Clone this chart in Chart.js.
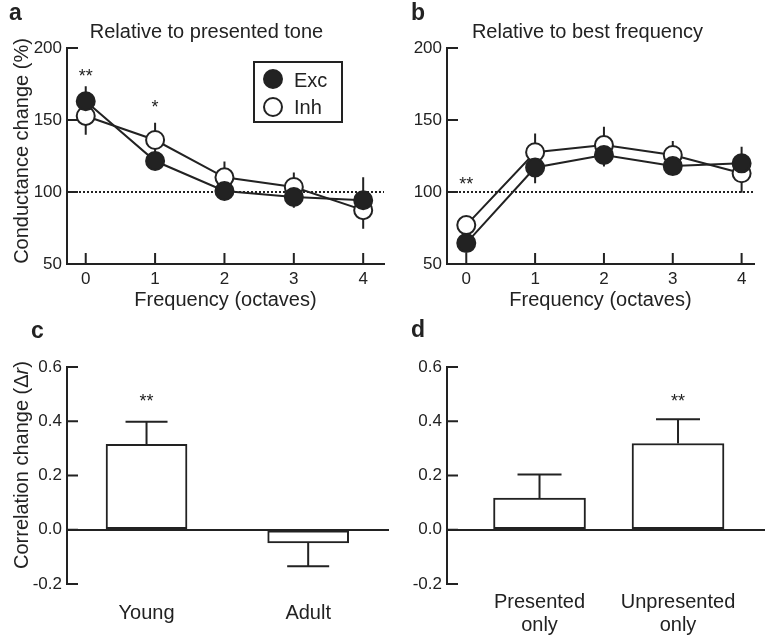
<!DOCTYPE html>
<html>
<head>
<meta charset="utf-8">
<script src="https://cdn.jsdelivr.net/npm/chart.js@4.4.1/dist/chart.umd.min.js"></script>
<style>
  body { margin: 0; background: #fff; font-family: 'Liberation Sans', Arial, sans-serif; color: #222; }
  #fig { position: relative; width: 765px; height: 639px; overflow: hidden; }
  #fig canvas { position: absolute; }
  .txt { position: absolute; white-space: nowrap; line-height: 1; }
  .lbl { font-weight: bold; font-size: 23px; }
  .ttl { font-size: 20px; width: 300px; text-align: center; }
  .ytl { font-size: 20px; width: 280px; text-align: center; transform: rotate(-90deg); }
  #legend { position: absolute; left: 253px; top: 61px; width: 90px; height: 62px; border: 2px solid #222; box-sizing: border-box; }
  .dot { position: absolute; width: 20px; height: 20px; border-radius: 50%; border: 2px solid #222; box-sizing: border-box; }
</style>
</head>
<body>
<div id="fig">
  <canvas id="panelA" width="395" height="320" style="left:0;top:0"></canvas>
  <canvas id="panelB" width="385" height="320" style="left:380px;top:0"></canvas>
  <canvas id="panelC" width="395" height="319" style="left:0;top:320px"></canvas>
  <canvas id="panelD" width="385" height="319" style="left:380px;top:320px"></canvas>

  <div class="txt lbl" style="left:9px;top:0.5px">a</div>
  <div class="txt lbl" style="left:411px;top:0.5px">b</div>
  <div class="txt lbl" style="left:31px;top:318.5px">c</div>
  <div class="txt lbl" style="left:411px;top:317.5px">d</div>

  <div class="txt ttl" style="left:56.5px;top:20.5px">Relative to presented tone</div>
  <div class="txt ttl" style="left:437.5px;top:20.5px">Relative to best frequency</div>

  <div class="txt ytl" style="left:-119px;top:140.8px">Conductance change (%)</div>
  <div class="txt ytl" style="left:-119px;top:455px">Correlation change (&Delta;<i>r</i>)</div>

  <div id="legend">
    <div class="dot" style="left:8.3px;top:6.3px;background:#222"></div>
    <div class="txt" style="left:39px;top:6.5px;font-size:20px">Exc</div>
    <div class="dot" style="left:8.3px;top:33.7px;background:#fff"></div>
    <div class="txt" style="left:39px;top:34px;font-size:20px">Inh</div>
  </div>
</div>

<script>
// ---- data ----
const octaves = [0, 1, 2, 3, 4];
const condTicks = [50, 100, 150, 200];

// a: relative to presented tone
const excTone = [163, 121.5, 100.7, 96.5, 94.3];
const excToneErr = [10.5, 5, 4, 7.5, 16];
const inhTone = [152.8, 136.1, 110.2, 103.5, 87.4];
const inhToneErr = [13, 12, 11, 10, 13];
const starsTone = [{ x: 0, y: 184, text: "**" }, { x: 1, y: 162.5, text: "*" }];

// b: relative to best frequency
const excBF = [64.5, 117, 125.7, 118, 119.9];
const excBFErr = [6, 11, 8, 4, 11.6];
const inhBF = [77, 127.6, 132.6, 125.7, 113];
const inhBFErr = [4, 13, 12.7, 9.7, 13.5];
const starsBF = [{ x: 0, y: 109, text: "**" }];

// c, d: correlation change
const corrTicks = [-0.2, 0, 0.2, 0.4, 0.6];
const ageGroups = ["Young", "Adult"];
const corrAge = [0.315, -0.049];
const corrAgeErr = [0.083, 0.086];
const starsAge = [{ x: 0, y: 0.493, text: "**" }];

const toneGroups = [["Presented", "only"], ["Unpresented", "only"]];
const corrTone = [0.117, 0.318];
const corrToneErr = [0.087, 0.089];
const starsToneOnly = [{ x: 1, y: 0.493, text: "**" }];

// ---- style ----
const INK = "#222";
Chart.defaults.font.family = "'Liberation Sans', Arial, sans-serif";
Chart.defaults.color = INK;

// inward ticks, dotted reference line, error bars and significance stars
const sciMarks = {
  id: "sciMarks",
  beforeDatasetsDraw(chart, args, opts) {
    const { ctx, chartArea: a, scales: { x, y } } = chart;
    ctx.save();
    ctx.strokeStyle = INK;
    ctx.lineWidth = 2;
    ctx.beginPath();
    y.ticks.forEach(t => {
      const py = y.getPixelForValue(t.value);
      ctx.moveTo(a.left, py);
      ctx.lineTo(a.left + 11, py);
    });
    if (opts.xTicks) {
      x.ticks.forEach(t => {
        const px = x.getPixelForValue(t.value);
        ctx.moveTo(px, a.bottom);
        ctx.lineTo(px, a.bottom - 11);
      });
    }
    ctx.stroke();

    if (opts.refLine != null) {
      const py = y.getPixelForValue(opts.refLine);
      ctx.setLineDash([2, 2]);
      ctx.beginPath();
      ctx.moveTo(a.left, py);
      ctx.lineTo(a.right, py);
      ctx.stroke();
      ctx.setLineDash([]);
    }

    if (opts.errStyle === "line") {
      ctx.beginPath();
      chart.data.datasets.forEach(ds => {
        if (!ds.errors) return;
        ds.data.forEach((p, i) => {
          const px = x.getPixelForValue(p.x);
          ctx.moveTo(px, y.getPixelForValue(p.y - ds.errors[i]));
          ctx.lineTo(px, y.getPixelForValue(p.y + ds.errors[i]));
        });
      });
      ctx.stroke();
    }
    ctx.restore();
  },
  afterDatasetsDraw(chart, args, opts) {
    const { ctx, scales: { x, y } } = chart;
    ctx.save();
    ctx.strokeStyle = INK;
    ctx.lineWidth = 2;
    if (opts.errStyle === "cap") {
      ctx.beginPath();
      chart.data.datasets.forEach(ds => {
        if (!ds.errors) return;
        ds.data.forEach((p, i) => {
          const px = x.getPixelForValue(p.x);
          const end = p.y + Math.sign(p.y) * ds.errors[i];
          const py = y.getPixelForValue(end);
          ctx.moveTo(px, y.getPixelForValue(p.y));
          ctx.lineTo(px, py);
          ctx.moveTo(px - opts.capHalf, py);
          ctx.lineTo(px + opts.capHalf, py);
        });
      });
      ctx.stroke();
    }
    if (opts.stars) {
      ctx.fillStyle = INK;
      ctx.font = "18px 'Liberation Sans', Arial, sans-serif";
      ctx.textAlign = "center";
      ctx.textBaseline = "alphabetic";
      opts.stars.forEach(s => {
        ctx.fillText(s.text, x.getPixelForValue(s.x), y.getPixelForValue(s.y) + 10.5);
      });
    }
    ctx.restore();
  }
};
Chart.register(sciMarks);

const setTicks = vals => scale => { scale.ticks = vals.map(v => ({ value: v })); };

function linePanel(id, exc, excErr, inh, inhErr, stars, xMin, xMax, padRight) {
  const base = {
    borderColor: INK, borderWidth: 2, fill: false, tension: 0, clip: false,
    pointRadius: 9, pointBorderWidth: 2, pointBorderColor: INK
  };
  return new Chart(document.getElementById(id), {
    type: "line",
    data: {
      datasets: [
        { ...base, label: "Exc", data: octaves.map((o, i) => ({ x: o, y: exc[i] })), errors: excErr, pointBackgroundColor: INK },
        { ...base, label: "Inh", data: octaves.map((o, i) => ({ x: o, y: inh[i] })), errors: inhErr, pointBackgroundColor: "#fff" }
      ]
    },
    options: {
      responsive: false,
      animation: false,
      layout: { padding: { top: 48, right: padRight, left: 0, bottom: 0 } },
      plugins: {
        legend: { display: false },
        tooltip: { enabled: false },
        sciMarks: { xTicks: true, refLine: 100, errStyle: "line", stars }
      },
      scales: {
        x: {
          type: "linear", min: xMin, max: xMax, offset: false,
          afterBuildTicks: setTicks(octaves),
          afterFit: s => { s.height = 56; },
          grid: { display: false, drawTicks: false },
          border: { display: true, color: INK, width: 2 },
          ticks: { font: { size: 17 }, padding: 5, color: INK, autoSkip: false, maxRotation: 0 },
          title: { display: true, text: "Frequency (octaves)", font: { size: 20 }, padding: { top: 0, bottom: 8 }, color: INK }
        },
        y: {
          type: "linear", min: 50, max: 200,
          afterBuildTicks: setTicks(condTicks),
          afterFit: s => { s.width = 67; },
          grid: { display: false, drawTicks: false },
          border: { display: true, color: INK, width: 2 },
          ticks: { font: { size: 17 }, padding: 5, color: INK }
        }
      }
    }
  });
}

function barPanel(id, groups, vals, errs, stars, xMin, xMax, barPx, capHalf, labelPad, padRight) {
  return new Chart(document.getElementById(id), {
    type: "bar",
    data: {
      datasets: [{
        data: groups.map((g, i) => ({ x: i, y: vals[i] })),
        errors: errs,
        backgroundColor: "#fff",
        borderColor: INK,
        borderWidth: 2,
        borderSkipped: false,
        barThickness: barPx
      }]
    },
    options: {
      responsive: false,
      animation: false,
      layout: { padding: { top: 47, right: padRight, left: 0, bottom: 0 } },
      plugins: {
        legend: { display: false },
        tooltip: { enabled: false },
        sciMarks: { errStyle: "cap", capHalf, stars }
      },
      scales: {
        x: {
          type: "linear", min: xMin, max: xMax, offset: false,
          afterBuildTicks: setTicks(groups.map((g, i) => i)),
          afterFit: s => { s.height = 55; },
          grid: { display: false, drawTicks: false, offset: false },
          border: { display: false },
          ticks: {
            font: { size: 20, lineHeight: 1.15 }, padding: labelPad, color: INK,
            autoSkip: false, maxRotation: 0,
            callback: v => groups[v]
          }
        },
        y: {
          type: "linear", min: -0.2, max: 0.6,
          afterBuildTicks: setTicks(corrTicks),
          afterFit: s => { s.width = 67; },
          grid: {
            display: true, drawTicks: false, lineWidth: 2,
            color: c => (c.tick && c.tick.value === 0 ? INK : "rgba(0,0,0,0)")
          },
          border: { display: true, color: INK, width: 2 },
          ticks: { font: { size: 17 }, padding: 5, color: INK, callback: v => v.toFixed(1) }
        }
      }
    }
  });
}

linePanel("panelA", excTone, excToneErr, inhTone, inhToneErr, starsTone, -0.27, 4.3, 5);
linePanel("panelB", excBF, excBFErr, inhBF, inhBFErr, starsBF, -0.28, 4.18, 2);
barPanel("panelC", ageGroups, corrAge, corrAgeErr, starsAge, -0.492, 1.5, 81, 21, 17.5, 6);
barPanel("panelD", toneGroups, corrTone, corrToneErr, starsToneOnly, -0.668, 1.628, 92, 22, 6.5, 0);
</script>
</body>
</html>
